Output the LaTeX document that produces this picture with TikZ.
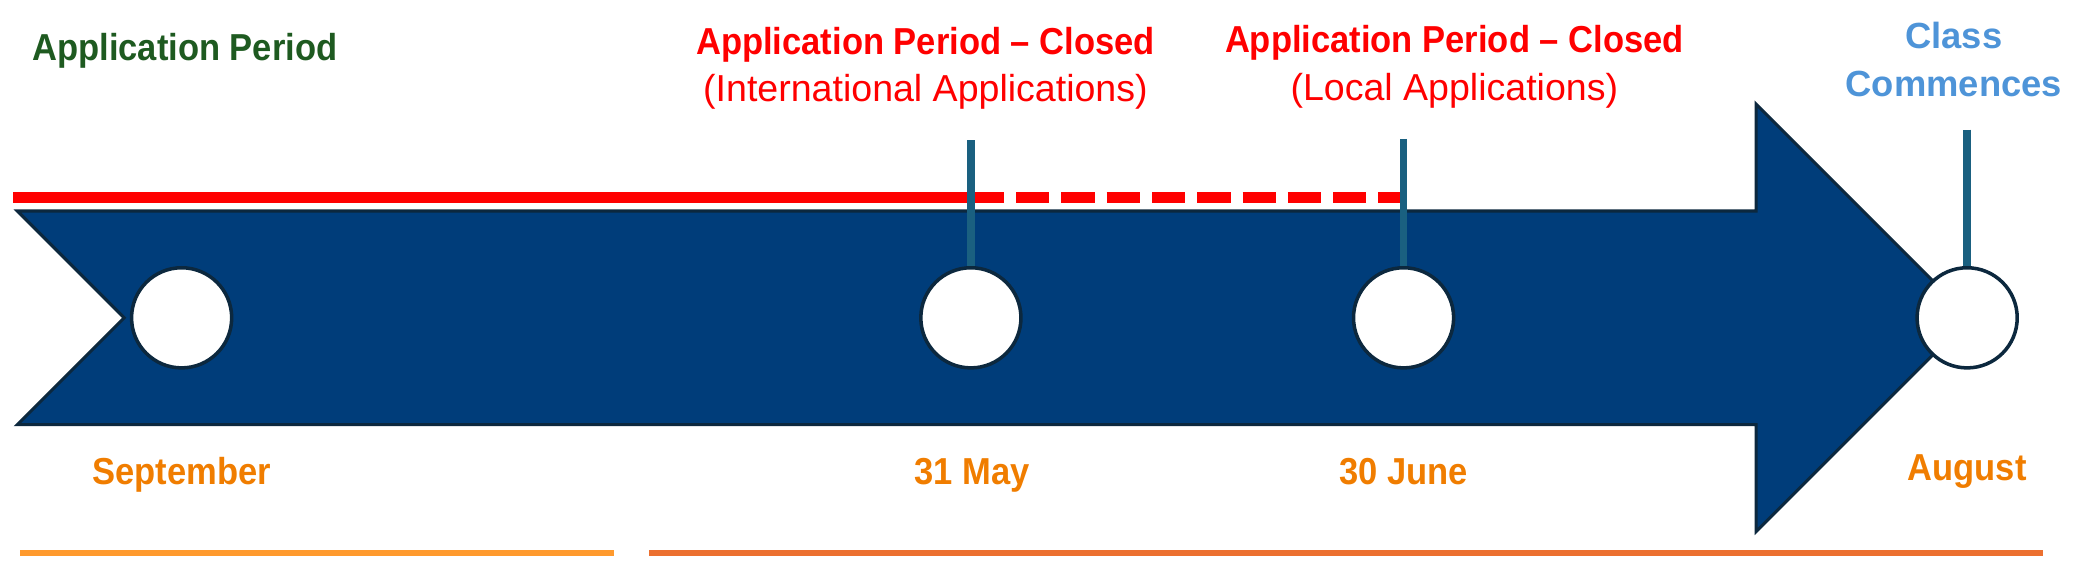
\documentclass[tikz,border=0pt]{standalone}
\usepackage{fontspec}
\setmainfont{Liberation Sans}
\newfontfamily\condfont[FakeStretch=0.92,Ligatures=TeX]{Liberation Sans}
\usetikzlibrary{positioning}

\definecolor{arrowblue}{RGB}{0,61,122}
\definecolor{edgeblue}{RGB}{12,40,62}
\definecolor{tickblue}{RGB}{26,96,128}
\definecolor{periodgreen}{RGB}{30,90,32}
\definecolor{closedred}{RGB}{255,0,0}
\definecolor{dateorange}{RGB}{240,125,0}
\definecolor{classblue}{RGB}{78,148,216}
\definecolor{barlight}{RGB}{255,154,46}
\definecolor{bardark}{RGB}{236,112,48}

\begin{document}
\begin{tikzpicture}[x=0.02cm, y=-0.02cm,
  dot/.style={circle, draw=edgeblue, line width=1.5pt, fill=white, minimum size=1.5cm, inner sep=0pt},
  stem/.style={tickblue, line width=3.3pt},
  redline/.style={closedred, line width=4.5pt},
  bar/.style={line width=2.8pt},
  datelbl/.style={anchor=base, text=dateorange, font=\condfont\bfseries\fontsize{16}{19}\selectfont},
  headlbl/.style={anchor=base, text=closedred, font=\condfont\bfseries\fontsize{16}{19}\selectfont},
  sublbl/.style={anchor=base, text=closedred, font=\fontsize{16}{19}\selectfont},
  classlbl/.style={anchor=base, text=classblue, font=\bfseries\fontsize{15.5}{19}\selectfont}]

\useasboundingbox (0,0) rectangle (1568,421);

\coordinate (R0) at (10,148);
\coordinate (R1) at (727,148);
\coordinate (R2) at (1051,148);
\coordinate (T1) at (727,105);
\coordinate (T2) at (1051,104);
\coordinate (T3) at (1473,97);

\draw[edgeblue, fill=arrowblue, line width=1.3pt] (13,158) -- (1315,158) -- (1315,78) -- (1475,238)
  -- (1315,398) -- (1315,318) -- (13,318) -- (93,238) -- cycle;

\draw[redline] (R0) -- (R1);
\draw[redline, dash pattern=on 14.2pt off 5.1pt] (R1) -- (R2);

\node[dot] (Sep) at (136,238) {};
\node[dot] (May) at (727,238) {};
\node[dot] (Jun) at (1051,238) {};
\node[dot] (Aug) at (1473,238) {};

\draw[stem] (T1) -- (May.north);
\draw[stem] (T2) -- (Jun.north);
\draw[stem] (T3) -- (Aug.north);

\node[anchor=base west, text=periodgreen, font=\condfont\bfseries\fontsize{16}{19}\selectfont] (open) at (18,45) {Application Period};

\node[headlbl] (closeIntl) at (693,41) {Application Period – Closed};
\node[sublbl] (intl) at (693,76) {(International Applications)};
\node[headlbl] (closeLocal) at (1089,39) {Application Period – Closed};
\node[sublbl] (local) at (1089,75) {(Local Applications)};

\node[classlbl] (class) at (1463,36) {Class};
\node[classlbl] (commence) at (1463,72) {Commences};

\node[datelbl] (lblSep) at (136,363) {September};
\node[datelbl] (lblMay) at (728,363) {31 May};
\node[datelbl] (lblJun) at (1051,363) {30 June};
\node[datelbl] (lblAug) at (1473,360) {August};

\draw[bar, barlight] (15,414) -- (460,414);
\draw[bar, bardark] (486,414) -- (1530,414);

\end{tikzpicture}
\end{document}
